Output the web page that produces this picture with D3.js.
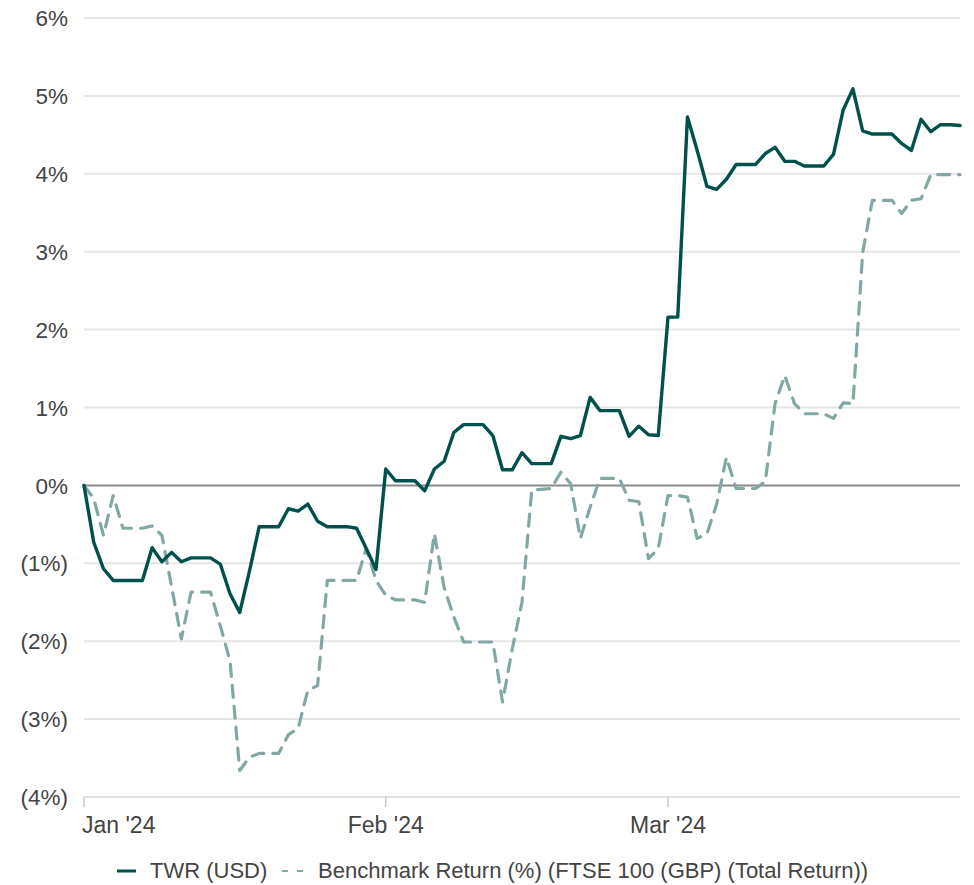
<!DOCTYPE html>
<html>
<head>
<meta charset="utf-8">
<script src="https://cdn.jsdelivr.net/npm/d3@7/dist/d3.min.js"></script>
<style>
  html, body { margin: 0; padding: 0; background: #fff; }
  svg { display: block; font-family: "Liberation Sans", Arial, Helvetica, sans-serif; }
</style>
</head>
<body>
<svg id="chart" width="974" height="885"></svg>
<script>
// ---- Data ----
const startDate = "2024-01-01";
const endDate = "2024-03-31";

const twr = [
  0, -0.73, -1.07, -1.22, -1.22, -1.22, -1.22, -0.80, -0.98, -0.86,
  -0.98, -0.93, -0.93, -0.93, -1.01, -1.39, -1.63, -1.10, -0.53, -0.53,
  -0.53, -0.30, -0.33, -0.24, -0.46, -0.53, -0.53, -0.53, -0.55, -0.81,
  -1.08, 0.21, 0.06, 0.06, 0.06, -0.07, 0.21, 0.31, 0.68, 0.78,
  0.78, 0.78, 0.64, 0.20, 0.20, 0.42, 0.28, 0.28, 0.28, 0.63,
  0.60, 0.64, 1.13, 0.96, 0.96, 0.96, 0.63, 0.76, 0.65, 0.64,
  2.16, 2.16, 4.73, 4.30, 3.84, 3.80, 3.93, 4.12, 4.12, 4.12,
  4.26, 4.34, 4.16, 4.16, 4.10, 4.10, 4.10, 4.25, 4.82, 5.09,
  4.55, 4.51, 4.51, 4.51, 4.39, 4.30, 4.70, 4.54, 4.63, 4.63,
  4.62
];

const benchmark = [
  0, -0.17, -0.64, -0.13, -0.55, -0.55, -0.55, -0.52, -0.64, -1.30,
  -1.97, -1.37, -1.37, -1.37, -1.80, -2.25, -3.66, -3.49, -3.44, -3.44,
  -3.44, -3.20, -3.12, -2.63, -2.57, -1.22, -1.22, -1.22, -1.22, -0.81,
  -1.22, -1.41, -1.47, -1.47, -1.47, -1.50, -0.62, -1.31, -1.69, -2.01,
  -2.01, -2.01, -2.01, -2.78, -2.10, -1.50, -0.06, -0.05, -0.04, 0.17,
  0.02, -0.68, -0.28, 0.09, 0.09, 0.09, -0.19, -0.21, -0.94, -0.81,
  -0.13, -0.13, -0.15, -0.68, -0.62, -0.24, 0.36, -0.04, -0.04, -0.04,
  0.05, 1.05, 1.41, 1.05, 0.92, 0.92, 0.92, 0.86, 1.06, 1.05,
  2.99, 3.66, 3.66, 3.66, 3.49, 3.66, 3.68, 3.99, 3.99, 3.99,
  3.99
];

const yTicks = [-4, -3, -2, -1, 0, 1, 2, 3, 4, 5, 6];
const xTickDates = ["2024-01-01", "2024-02-01", "2024-03-01"];
const xTickLabels = ["Jan '24", "Feb '24", "Mar '24"];
const seriesNames = ["TWR (USD)", "Benchmark Return (%) (FTSE 100 (GBP) (Total Return))"];
const colors = ["#00504b", "#82a8a6"];

// ---- Layout ----
const svg = d3.select("#chart");
const plotLeft = 84, plotRight = 960, plotTop = 18, plotBottom = 797;

const parse = d3.utcParse("%Y-%m-%d");
const start = parse(startDate), end = parse(endDate);
const dates = d3.utcDay.range(start, d3.utcDay.offset(end, 1));

const x = d3.scaleUtc().domain([start, end]).range([plotLeft, plotRight]);
const y = d3.scaleLinear().domain([-4, 6]).range([plotBottom, plotTop]);

// gridlines
svg.append("g").selectAll("line").data(yTicks.filter(t => t !== 0 && t !== -4)).join("line")
  .attr("x1", plotLeft).attr("x2", plotRight)
  .attr("y1", d => y(d)).attr("y2", d => y(d))
  .attr("stroke", "#e6e6e6").attr("stroke-width", 2);

// bottom axis line (-4%)
svg.append("line")
  .attr("x1", plotLeft).attr("x2", plotRight)
  .attr("y1", y(-4)).attr("y2", y(-4))
  .attr("stroke", "#e2e2e2").attr("stroke-width", 2);

// x ticks
const xt = xTickDates.map(parse);
svg.append("g").selectAll("line").data(xt).join("line")
  .attr("x1", d => x(d)).attr("x2", d => x(d))
  .attr("y1", y(-4)).attr("y2", y(-4) + 10)
  .attr("stroke", "#cccccc").attr("stroke-width", 1.5);

svg.append("g").selectAll("text").data(xt).join("text")
  .attr("x", (d, i) => i === 0 ? x(d) - 2 : x(d))
  .attr("y", 833)
  .attr("text-anchor", (d, i) => i === 0 ? "start" : "middle")
  .attr("font-size", 23)
  .attr("fill", "#444")
  .text((d, i) => xTickLabels[i]);

// y labels
const fmt = v => v < 0 ? `(${Math.abs(v)}%)` : `${v}%`;
svg.append("g").selectAll("text").data(yTicks).join("text")
  .attr("x", 68)
  .attr("y", d => y(d))
  .attr("dy", "0.36em")
  .attr("text-anchor", "end")
  .attr("font-size", 22.5)
  .attr("fill", "#444")
  .text(fmt);

// zero line
svg.append("line")
  .attr("x1", plotLeft).attr("x2", plotRight)
  .attr("y1", y(0)).attr("y2", y(0))
  .attr("stroke", "#8a8a8a").attr("stroke-width", 2);

// series
const line = d3.line()
  .x((d, i) => x(dates[i]))
  .y(d => y(d));

svg.append("path")
  .datum(benchmark)
  .attr("d", line)
  .attr("fill", "none")
  .attr("stroke", colors[1])
  .attr("stroke-width", 3.2)
  .attr("stroke-dasharray", "12,9")
  .attr("stroke-linecap", "round")
  .attr("stroke-linejoin", "round");

svg.append("path")
  .datum(twr)
  .attr("d", line)
  .attr("fill", "none")
  .attr("stroke", colors[0])
  .attr("stroke-width", 3.4)
  .attr("stroke-linecap", "round")
  .attr("stroke-linejoin", "round");

// legend
const lg = svg.append("g");
const ly = 871;
lg.append("line").attr("x1", 117).attr("x2", 136).attr("y1", ly).attr("y2", ly)
  .attr("stroke", colors[0]).attr("stroke-width", 3);
lg.append("text").attr("x", 150).attr("y", 878)
  .attr("font-size", 22).attr("fill", "#444").text(seriesNames[0]);
lg.append("line").attr("x1", 282).attr("x2", 304).attr("y1", ly).attr("y2", ly)
  .attr("stroke", colors[1]).attr("stroke-width", 2).attr("stroke-dasharray", "6,9");
lg.append("text").attr("x", 318).attr("y", 878)
  .attr("font-size", 22).attr("fill", "#444").text(seriesNames[1]);
</script>
</body>
</html>
